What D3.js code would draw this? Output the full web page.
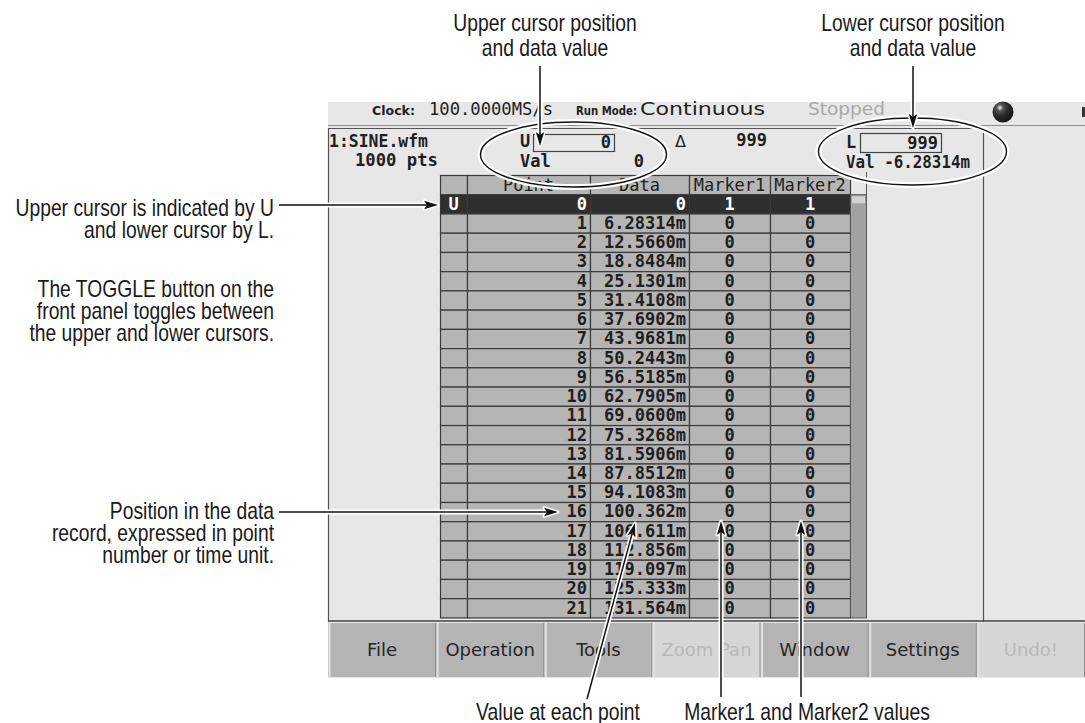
<!DOCTYPE html>
<html><head><meta charset="utf-8">
<script src="https://cdn.jsdelivr.net/npm/d3@7"></script>
<style>html,body{margin:0;padding:0;background:#fff;}svg{display:block;}</style>
</head><body>
<script>
// ---------- data ----------
const columns = ["", "Point", "Data", "Marker1", "Marker2"];
const points = [0,1,2,3,4,5,6,7,8,9,10,11,12,13,14,15,16,17,18,19,20,21];
const dataValues = ["0","6.28314m","12.5660m","18.8484m","25.1301m","31.4108m","37.6902m","43.9681m",
  "50.2443m","56.5185m","62.7905m","69.0600m","75.3268m","81.5906m","87.8512m","94.1083m",
  "100.362m","106.611m","112.856m","119.097m","125.333m","131.564m"];
const marker1 = [1,0,0,0,0,0,0,0,0,0,0,0,0,0,0,0,0,0,0,0,0,0];
const marker2 = [1,0,0,0,0,0,0,0,0,0,0,0,0,0,0,0,0,0,0,0,0,0];
const cursorLabels = ["U", "L"];
const cursorPositions = [0, 999];
const cursorValues = ["0", "-6.28314m"];
const deltaValue = "999";
const buttons = ["File","Operation","Tools","Zoom Pan","Window","Settings","Undo!"];
const buttonEnabled = [true,true,true,false,true,true,false];
const statusTexts = ["Clock:", "100.0000MS/s", "Run Mode:", "Continuous", "Stopped"];
const fileTexts = ["1:SINE.wfm", "1000 pts"];
const topNotes = [["Upper cursor position","and data value"],["Lower cursor position","and data value"]];
const leftNotes = [["Upper cursor is indicated by U","and lower cursor by L."],
  ["The TOGGLE button on the","front panel toggles between","the upper and lower cursors."],
  ["Position in the data","record, expressed in point","number or time unit."]];
const bottomNotes = ["Value at each point", "Marker1 and Marker2 values"];

// ---------- setup ----------
const W = 1085, H = 723;
const svg = d3.select("body").append("svg").attr("width", W).attr("height", H);
svg.append("rect").attr("width", W).attr("height", H).attr("fill", "#fff");

const MONO = "'DejaVu Sans Mono', monospace";
const SANS = "'DejaVu Sans', sans-serif";
const NOTE = "'Liberation Sans', Arial, sans-serif";
const ink = "#1f1f1f";

// panel
svg.append("rect").attr("x", 328).attr("y", 102).attr("width", 757).attr("height", 576).attr("fill", "#e7e7e7");
const line = (x1,y1,x2,y2,c,w) => svg.append("line").attr("x1",x1).attr("y1",y1).attr("x2",x2).attr("y2",y2)
  .attr("stroke",c).attr("stroke-width",w||1);
line(328,125.5,1085,125.5,"#8c8c8c",1.2);
line(328,128.5,984,128.5,"#555",1);
line(328.5,128,328.5,622,"#555",1.2);
line(983.5,128,983.5,622,"#555",1.2);
line(328,621,1085,621,"#444",1.5);

// status bar
const st = svg.append("g");
st.append("text").attr("x",372).attr("y",115).attr("font-family",SANS).attr("font-weight","bold").attr("font-size",11.5)
  .attr("textLength",43).attr("lengthAdjust","spacingAndGlyphs").attr("fill",ink).text(statusTexts[0]);
st.append("text").attr("x",429).attr("y",115).attr("font-family",MONO).attr("font-size",17)
  .attr("textLength",124).attr("lengthAdjust","spacingAndGlyphs").attr("fill",ink).text(statusTexts[1]);
st.append("text").attr("x",576).attr("y",115).attr("font-family",SANS).attr("font-weight","bold").attr("font-size",11.5)
  .attr("textLength",61).attr("lengthAdjust","spacingAndGlyphs").attr("fill",ink).text(statusTexts[2]);
st.append("text").attr("x",640).attr("y",115).attr("font-family",SANS).attr("font-size",17)
  .attr("textLength",125).attr("lengthAdjust","spacingAndGlyphs").attr("fill",ink).text(statusTexts[3]);
st.append("text").attr("x",808).attr("y",115).attr("font-family",SANS).attr("font-size",17)
  .attr("textLength",77).attr("lengthAdjust","spacingAndGlyphs").attr("fill","#a9a9a9").text(statusTexts[4]);
const defs = svg.append("defs");
const rg = defs.append("radialGradient").attr("id","ball").attr("cx","35%").attr("cy","30%").attr("r","70%");
rg.append("stop").attr("offset","0%").attr("stop-color","#f4f4f4");
rg.append("stop").attr("offset","22%").attr("stop-color","#555");
rg.append("stop").attr("offset","60%").attr("stop-color","#262626");
rg.append("stop").attr("offset","100%").attr("stop-color","#1a1a1a");
st.append("circle").attr("cx",1003).attr("cy",112).attr("r",10.5).attr("fill","url(#ball)");
st.append("rect").attr("x",1082).attr("y",107).attr("width",3).attr("height",10).attr("fill","#333");

// file info & cursors
const info = svg.append("g").attr("font-family",MONO).attr("font-size",17).attr("font-weight","bold").attr("fill",ink);
info.append("text").attr("x",329).attr("y",147).attr("textLength",99).attr("lengthAdjust","spacingAndGlyphs").text(fileTexts[0]);
info.append("text").attr("x",438).attr("y",166).attr("text-anchor","end").attr("textLength",83).attr("lengthAdjust","spacingAndGlyphs").text(fileTexts[1]);
// Upper cursor
info.append("text").attr("x",520).attr("y",147).text(cursorLabels[0]);
info.append("rect").attr("x",533.5).attr("y",134.5).attr("width",81).attr("height",17).attr("fill","none").attr("stroke","#444").attr("stroke-width",1.2);
info.append("text").attr("x",611).attr("y",148).attr("text-anchor","end").text(cursorPositions[0]);
info.append("text").attr("x",520).attr("y",167).text("Val");
info.append("text").attr("x",644).attr("y",167).attr("text-anchor","end").text(cursorValues[0]);
info.append("text").attr("x",675).attr("y",147).attr("font-family",SANS).attr("font-weight","normal").attr("font-size",16).text("Δ");
info.append("text").attr("x",767).attr("y",146).attr("text-anchor","end").text(deltaValue);
// Lower cursor
info.append("text").attr("x",846).attr("y",148).text(cursorLabels[1]);
info.append("rect").attr("x",860.5).attr("y",133.5).attr("width",81).attr("height",19).attr("fill","none").attr("stroke","#444").attr("stroke-width",1.2);
info.append("text").attr("x",938).attr("y",149).attr("text-anchor","end").text(cursorPositions[1]);
info.append("text").attr("x",846).attr("y",168).attr("textLength",124).attr("lengthAdjust","spacingAndGlyphs")
  .text("Val " + cursorValues[1]);

// ---------- table ----------
const colEdges = [440, 467, 590, 689, 770, 850];
const x = d3.scaleOrdinal().domain(columns).range(colEdges.slice(0,5));
const colW = c => colEdges[columns.indexOf(c)+1] - colEdges[columns.indexOf(c)];
const y = d3.scaleBand().domain(["hdr"].concat(points)).range([175, 617.4]);
const tbl = svg.append("g");
const rowsData = ["hdr"].concat(points);
rowsData.forEach(r => {
  columns.forEach(c => {
    tbl.append("rect").attr("x", x(c)+0.5).attr("y", y(r)+0.5).attr("width", colW(c)).attr("height", y.bandwidth())
      .attr("fill", r === 0 ? "#2f2f2f" : "#b5b5b5").attr("stroke", "#3a3a3a").attr("stroke-width", 1.2);
  });
});
// scrollbar
tbl.append("rect").attr("x",850.5).attr("y",y(0)+0.5).attr("width",16).attr("height",617.4 - y(0))
  .attr("fill","#a2a2a2").attr("stroke","#555");
tbl.append("rect").attr("x",852).attr("y",y(0)+2).attr("width",13).attr("height",7).attr("fill","#d2d2d2");
line(866.5,172,866.5,618,"#555",1);

const tt = tbl.append("g").attr("font-family",MONO).attr("font-size",17).attr("font-weight","bold");
const base = r => y(r) + 15.5;
// header
columns.slice(1).forEach(c => {
  tt.append("text").attr("x", x(c) + colW(c)/2).attr("y", base("hdr")).attr("text-anchor","middle").attr("fill",ink)
    .attr("font-weight","normal").text(c);
});
points.forEach((p,i) => {
  const col = i === 0 ? "#fff" : ink;
  if (i === 0) tt.append("text").attr("x", x("") + colW("")/2).attr("y", base(p)).attr("text-anchor","middle").attr("fill",col).text(cursorLabels[0]);
  tt.append("text").attr("x", x("Point") + colW("Point") - 3).attr("y", base(p)).attr("text-anchor","end").attr("fill",col).text(p);
  tt.append("text").attr("x", x("Data") + colW("Data") - 3).attr("y", base(p)).attr("text-anchor","end").attr("fill",col).text(dataValues[i]);
  tt.append("text").attr("x", x("Marker1") + colW("Marker1")/2).attr("y", base(p)).attr("text-anchor","middle").attr("fill",col).text(marker1[i]);
  tt.append("text").attr("x", x("Marker2") + colW("Marker2")/2).attr("y", base(p)).attr("text-anchor","middle").attr("fill",col).text(marker2[i]);
});

// ---------- buttons ----------
const bx = d3.scaleBand().domain(buttons).range([328, 1085]);
const bt = svg.append("g");
buttons.forEach((b,i) => {
  const x0 = bx(b), w = bx.bandwidth();
  bt.append("rect").attr("x", x0).attr("y", 623).attr("width", w).attr("height", 54)
    .attr("fill", buttonEnabled[i] ? "#b4b4b4" : "#d6d6d6");
  bt.append("line").attr("x1", x0+1.5).attr("x2", x0+1.5).attr("y1", 623).attr("y2", 677).attr("stroke", "#e2e2e2").attr("stroke-width", 2);
  bt.append("line").attr("x1", x0+w-0.5).attr("x2", x0+w-0.5).attr("y1", 623).attr("y2", 677).attr("stroke", "#8a8a8a").attr("stroke-width", 1);
  bt.append("text").attr("x", x0 + w/2).attr("y", 656).attr("text-anchor","middle").attr("font-family",SANS).attr("font-size",18)
    .attr("fill", buttonEnabled[i] ? "#262626" : "#b9b9b9").text(b);
});

// ---------- annotations ----------
const ann = svg.append("g");
function ellipse(cx, cy, rx, ry) {
  ann.append("ellipse").attr("cx",cx).attr("cy",cy).attr("rx",rx).attr("ry",ry).attr("fill","none").attr("stroke","#fff").attr("stroke-width",6);
  ann.append("ellipse").attr("cx",cx).attr("cy",cy).attr("rx",rx).attr("ry",ry).attr("fill","none").attr("stroke","#111").attr("stroke-width",1.4);
}
function arrow(x1, y1, x2, y2) {
  const L = Math.hypot(x2-x1, y2-y1), ux = (x2-x1)/L, uy = (y2-y1)/L;
  const hl = 14, hw = 4.2;
  const bxp = x2 - ux*hl, byp = y2 - uy*hl;
  const pts = [[x2,y2],[bxp - uy*hw, byp + ux*hw],[x2 - ux*(hl-3), y2 - uy*(hl-3)],[bxp + uy*hw, byp - ux*hw]];
  ann.append("line").attr("x1",x1).attr("y1",y1).attr("x2",bxp+ux*3).attr("y2",byp+uy*3).attr("stroke","#fff").attr("stroke-width",5);
  ann.append("polygon").attr("points",pts.map(p=>p.join(",")).join(" ")).attr("fill","#fff").attr("stroke","#fff").attr("stroke-width",3).attr("stroke-linejoin","round");
  ann.append("line").attr("x1",x1).attr("y1",y1).attr("x2",bxp+ux*3).attr("y2",byp+uy*3).attr("stroke","#111").attr("stroke-width",1.5);
  ann.append("polygon").attr("points",pts.map(p=>p.join(",")).join(" ")).attr("fill","#111");
}
ellipse(573.5, 154.5, 93, 32.5);
ellipse(912.5, 151.5, 94, 33.5);

// condensed (narrow) note text: Liberation Sans squeezed horizontally; one text element per block
const NARROW = 0.84;
function noteBlock(xx, yy, lines, anchor, lh) {
  const t = ann.append("text")
    .attr("transform", `translate(${xx},${yy}) scale(${NARROW},1)`)
    .attr("text-anchor", anchor).attr("font-family", NOTE).attr("font-size", 23).attr("fill", "#1a1a1a");
  lines.forEach((s, i) => t.append("tspan").attr("x", 0).attr("y", i * lh).text(s));
}

// top notes
noteBlock(545, 31, topNotes[0], "middle", 25);
noteBlock(913, 31, topNotes[1], "middle", 25);
arrow(540, 66, 540, 146);
arrow(913, 66, 913, 128);

// left notes
noteBlock(274, 216, leftNotes[0], "end", 22);
noteBlock(274, 297, leftNotes[1], "end", 22);
noteBlock(274, 519, leftNotes[2], "end", 22);
arrow(279, 205, 438, 205);
arrow(279, 512, 558, 512);

// bottom notes
noteBlock(558, 720, [bottomNotes[0]], "middle", 0);
noteBlock(807, 720, [bottomNotes[1]], "middle", 0);
arrow(587, 699, 635, 523);
arrow(721, 697, 721, 521);
arrow(801, 697, 801, 521);
</script>
</body></html>
